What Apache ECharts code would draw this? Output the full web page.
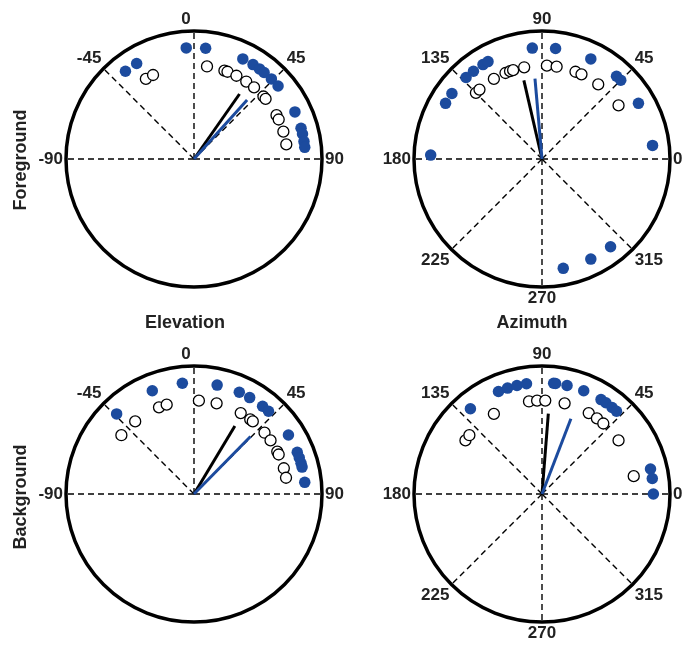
<!DOCTYPE html>
<html>
<head>
<meta charset="utf-8">
<script src="https://cdn.jsdelivr.net/npm/echarts@6/dist/echarts.min.js"></script>
<style>html,body{margin:0;padding:0;background:#fff}#c{width:694px;height:648px}</style>
</head>
<body>
<div id="c"></div>
<script>
// ---- data (angles in degrees) ----
const fgElevFilled = [-38, -31, -4, 6, 26, 32, 36, 39, 44, 49, 65, 74, 77, 81, 84];
const fgElevOpen   = [-31, -26, 8, 19, 21, 27, 34, 40, 48, 50, 62, 65, 73, 81];
const fgElevMeanAngle = [35, 42];      // [black, blue]
const fgElevMeanLength = [0.62, 0.62];

const fgAzFilled = [178, 150, 144, 133, 128, 122, 119, 95, 83, 64, 48, 45, 30, 7, 281, 296, 308];
const fgAzOpen   = [135, 132, 121, 113, 110, 108, 101, 87, 81, 69, 65, 53, 35];
const fgAzMeanAngle = [103, 95];
const fgAzMeanLength = [0.63, 0.63];

const bgElevFilled = [-44, -22, -6, 12, 24, 30, 38, 42, 58, 68, 71, 74, 76, 84];
const bgElevOpen   = [-51, -39, -22, -17, 3, 14, 30, 37, 39, 49, 55, 63, 65, 74, 80];
const bgElevMeanAngle = [31, 44.5];
const bgElevMeanLength = [0.62, 0.63];

const bgAzFilled = [130, 113, 108, 103, 98, 84, 83, 77, 68, 58, 55, 51, 48, 13, 8, 0];
const bgAzOpen   = [145, 141, 121, 98, 93, 88, 76, 60, 54, 49, 35, 11];
const bgAzMeanAngle = [85.5, 69];
const bgAzMeanLength = [0.63, 0.63];

const elevTickLabels = [-90, -45, 0, 45, 90];
const azTickLabels = [0, 45, 90, 135, 180, 225, 270, 315];
const elevRays = [-90, -45, 0, 45, 90];
const azRays = [0, 45, 90, 135, 180, 225, 270, 315];

const colTitles = ['Elevation', 'Azimuth'];
const rowTitles = ['Foreground', 'Background'];

// ---- styling ----
const BLUE = '#1c4b9e';
const FILLED_R = 0.87;
const OPEN_R = 0.73;
const R = 128;
const centers = [[194,159],[542,159],[194,494],[542,494]];
const FONT = "'Liberation Sans', Arial, Helvetica, sans-serif";

const panels = [
  {type:'elev', filled: fgElevFilled, open: fgElevOpen, ma: fgElevMeanAngle, ml: fgElevMeanLength},
  {type:'az',   filled: fgAzFilled,   open: fgAzOpen,   ma: fgAzMeanAngle,   ml: fgAzMeanLength},
  {type:'elev', filled: bgElevFilled, open: bgElevOpen, ma: bgElevMeanAngle, ml: bgElevMeanLength},
  {type:'az',   filled: bgAzFilled,   open: bgAzOpen,   ma: bgAzMeanAngle,   ml: bgAzMeanLength}
];

const polar = [], angleAxis = [], radiusAxis = [], series = [];
panels.forEach((p, i) => {
  polar.push({center: centers[i], radius: R});
  radiusAxis.push({polarIndex: i, min: 0, max: 1, show: false});
  const isElev = p.type === 'elev';
  const shown = isElev ? elevTickLabels : azTickLabels;
  angleAxis.push({
    polarIndex: i,
    type: 'value',
    min: isElev ? -180 : 0,
    max: isElev ? 180 : 360,
    interval: 45,
    startAngle: isElev ? 270 : 0,
    clockwise: isElev,
    axisLine: {show: true, lineStyle: {color: '#000', width: 3.5}},
    axisTick: {show: false},
    splitLine: {show: false},
    axisLabel: {
      show: true, margin: 3, color: '#222', fontSize: 17, fontWeight: 'bold', fontFamily: FONT,
      formatter: v => {
        if (!shown.includes(v)) return '';
        if (isElev && v === 0) return '{z|0}';
        return String(v);
      },
      rich: {z: {color: '#222', fontSize: 17, fontWeight: 'bold', fontFamily: FONT, padding: [0, 16, 0, 0]}}
    }
  });
  const rays = isElev ? elevRays : azRays;
  rays.forEach(a => {
    series.push({
      type: 'line', coordinateSystem: 'polar', polarIndex: i, silent: true, symbol: 'none',
      data: [[0, a], [1, a]],
      lineStyle: {color: '#000', width: 1.4, type: [6, 4]}, z: 1
    });
  });
  series.push({
    type: 'scatter', coordinateSystem: 'polar', polarIndex: i, silent: true,
    symbol: 'circle', symbolSize: 11,
    data: p.open.map(a => [OPEN_R, a]),
    itemStyle: {color: '#fff', borderColor: '#000', borderWidth: 1.3, opacity: 1}, z: 3
  });
  series.push({
    type: 'scatter', coordinateSystem: 'polar', polarIndex: i, silent: true,
    symbol: 'circle', symbolSize: 11.5,
    data: p.filled.map(a => [FILLED_R, a]),
    itemStyle: {color: BLUE, opacity: 1}, z: 3
  });
  ['#000', BLUE].forEach((c, k) => {
    series.push({
      type: 'line', coordinateSystem: 'polar', polarIndex: i, silent: true, symbol: 'none',
      data: [[0, p.ma[k]], [p.ml[k], p.ma[k]]],
      lineStyle: {color: c, width: 3}, z: 4
    });
  });
});

const titleStyle = {fill: '#222', font: "bold 18px " + FONT, textAlign: 'center', textVerticalAlign: 'middle'};
const graphic = [
  {type: 'text', position: [185, 323], style: Object.assign({text: colTitles[0]}, titleStyle)},
  {type: 'text', position: [532, 323], style: Object.assign({text: colTitles[1]}, titleStyle)},
  {type: 'text', position: [21, 160], rotation: Math.PI/2, style: Object.assign({text: rowTitles[0]}, titleStyle)},
  {type: 'text', position: [21, 497], rotation: Math.PI/2, style: Object.assign({text: rowTitles[1]}, titleStyle)}
];

const chart = echarts.init(document.getElementById('c'), null, {renderer: 'canvas'});
chart.setOption({
  animation: false,
  backgroundColor: '#fff',
  polar, angleAxis, radiusAxis, series, graphic
});
</script>
</body>
</html>
